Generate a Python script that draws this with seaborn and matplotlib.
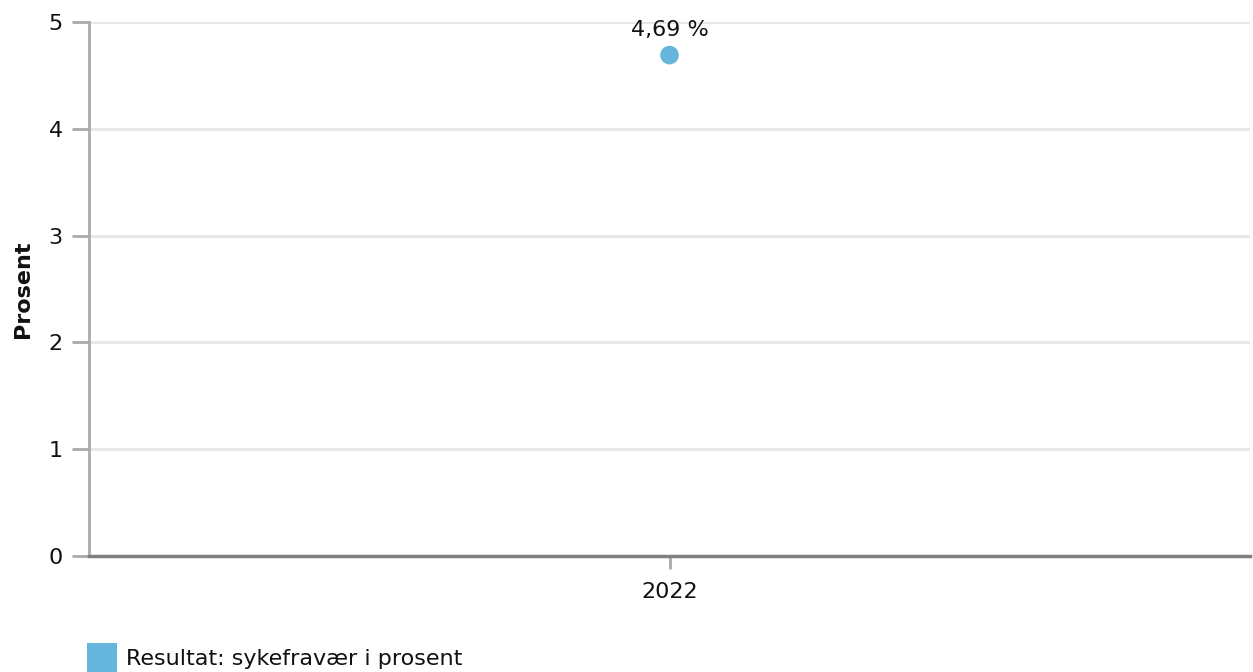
import matplotlib
matplotlib.use("Agg")
import matplotlib.pyplot as plt
import seaborn as sns
import pandas as pd
from matplotlib.patches import Patch

years = ["2022"]
values = [4.69]
labels = ["4,69 %"]
series_name = "Resultat: sykefravær i prosent"
y_ticks = [0, 1, 2, 3, 4, 5]

sns.set_theme(style="white")
plt.rcParams['font.family'] = ['DejaVu Sans']

color = "#66b5dc"
fs = 16

df = pd.DataFrame({"year": years, "value": values})

fig = plt.figure(figsize=(12.53, 6.72), dpi=100)
ax = fig.add_axes([89/1253, 1-556/672, (1250-89)/1253, (556-22)/672])

sns.scatterplot(data=df, x="year", y="value", ax=ax, color=color, s=180,
                edgecolor="none", zorder=5, clip_on=False, legend=False)

ax.set_xlim(-0.5, 0.5)
ax.set_ylim(0, 5)
ax.set_yticks(y_ticks)
ax.set_yticklabels([str(t) for t in y_ticks], fontsize=fs)
ax.tick_params(axis="x", bottom=True, labelsize=fs, labelcolor="#111111",
               length=9, width=2, color="#aaaaaa", pad=10, direction="out")
ax.tick_params(axis="y", left=True, labelsize=fs, labelcolor="#111111",
               length=12, width=2, color="#aaaaaa", pad=7, direction="out")

ax.yaxis.grid(True, color="#e6e6e6", linewidth=2)
ax.set_axisbelow(True)
for s in ["top", "right"]:
    ax.spines[s].set_visible(False)
ax.spines["left"].set_color("#aaaaaa")
ax.spines["left"].set_linewidth(2)
ax.spines["bottom"].set_color("#7f7f7f")
ax.spines["bottom"].set_linewidth(2.5)

ax.set_xlabel("")
ax.set_ylabel("Prosent", fontsize=fs, fontweight="bold", color="#111111")
ax.yaxis.set_label_coords(-(89-33)/1161, 0.5)

for x, v, lab in zip(years, values, labels):
    ax.annotate(lab, (x, v), xytext=(0, 11), textcoords="offset points",
                ha="center", va="bottom", fontsize=fs, color="#111111")

handle = Patch(facecolor=color, edgecolor="none")
fig.legend([handle], [series_name], loc="lower left",
           bbox_to_anchor=(87/1253, 0.0), frameon=False, fontsize=fs,
           handlelength=1.35, handleheight=1.6, handletextpad=0.4,
           borderpad=0, borderaxespad=0, labelcolor="#111111")

fig.savefig("out.png", dpi=100)
